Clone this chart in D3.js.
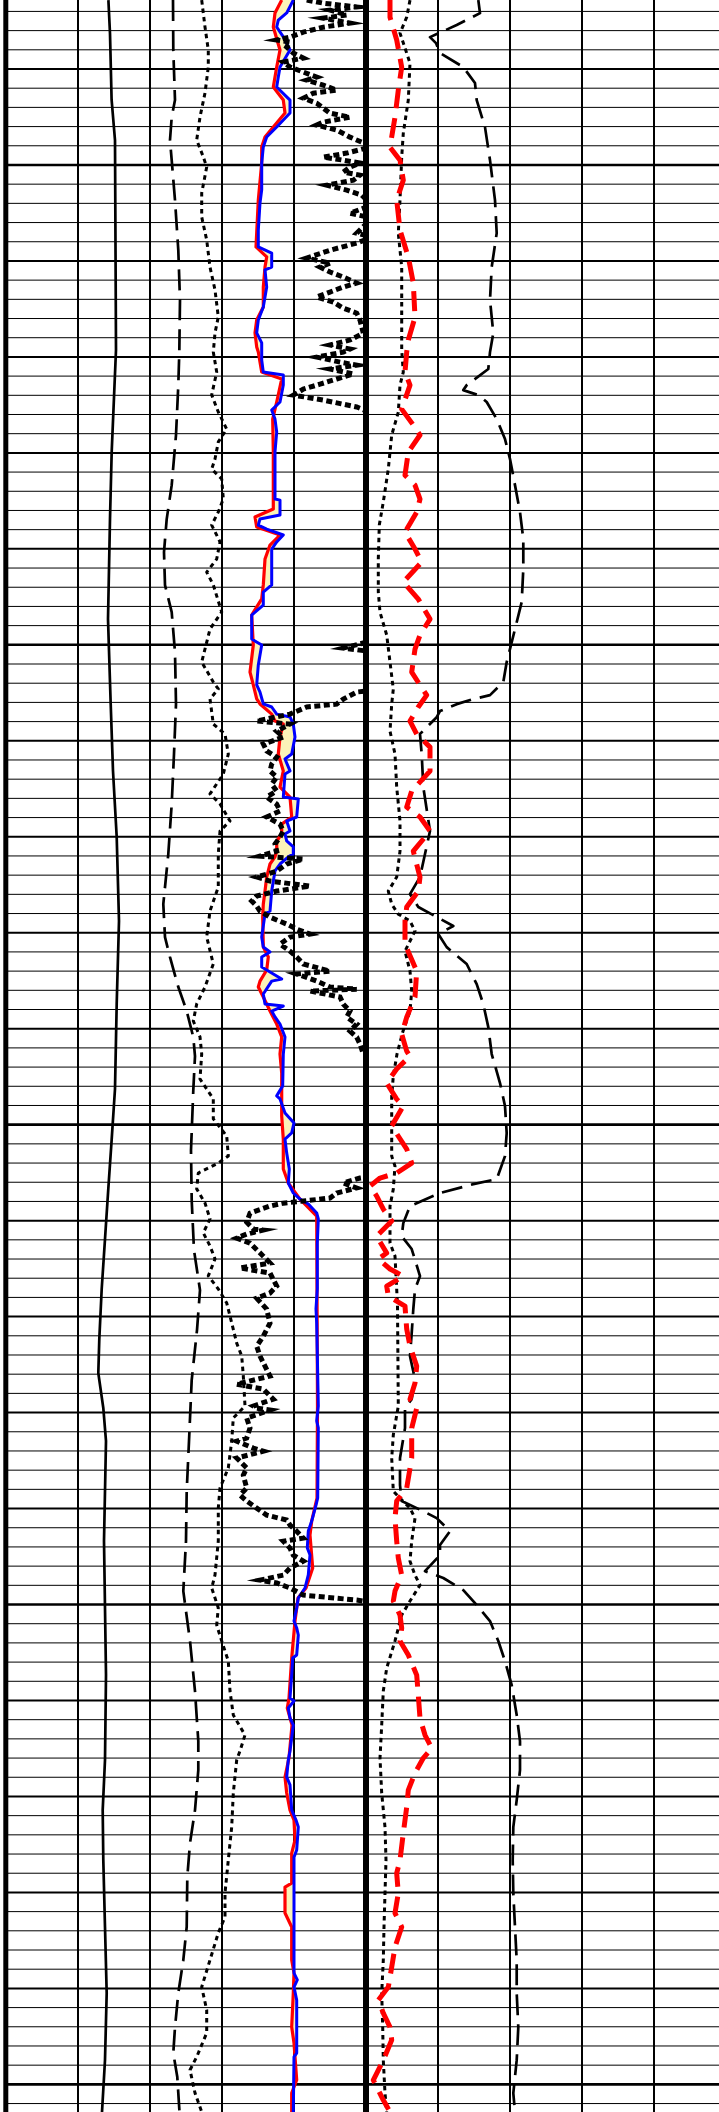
<!DOCTYPE html>
<html>
<head>
<meta charset="utf-8">
<script src="https://cdn.jsdelivr.net/npm/d3@7"></script>
<style>
html, body { margin: 0; padding: 0; background: #fff; }
svg { display: block; }
</style>
</head>
<body>
<div id="log"></div>
<script>
// Each curve: [depth (m), reading in track units 0–180]

// ---- left track ----
const caliper = [[1241.41,51.2],[1243.15,52],[1246.6,52.8],[1248.7,54.5],[1259.64,55],[1264.95,52.85],[1268.44,52],[1273.65,51],[1278.08,52.35],[1281.57,53.5],[1285.01,55.35],[1289.39,56.5],[1293.71,55.35],[1298.14,54.5],[1300.75,52.85],[1303.35,51.15],[1305.96,49.5],[1308.56,47.85],[1311.17,46.65],[1312.94,46.15],[1314.76,48.65],[1316.48,50],[1319.09,49.5],[1321.69,49],[1325.18,49.5],[1328.67,50],[1333.1,49.5],[1335.71,48.35],[1338.31,48.65],[1341.8,49.5],[1345.24,50.35],[1348.73,49.5],[1351.44,48]];

const spontaneous = [[1241.41,83.5],[1244.02,83.65],[1246.62,84.5],[1247.51,82.85],[1248.7,82],[1249.75,82.85],[1251.83,84.5],[1254.44,86.15],[1257.04,87],[1259.75,86.65],[1261.47,86.15],[1264.07,85],[1266.68,82.85],[1268.45,80.35],[1270.17,79],[1271.89,79.5],[1273.3,82.85],[1275.38,84.5],[1278.09,85],[1280.69,84],[1283.3,82.85],[1285.9,81.15],[1288.51,78.65],[1290.23,79.5],[1291.27,82],[1292.83,86.15],[1294.08,90.35],[1295.44,93.65],[1296.43,94.5],[1298.2,93.65],[1301.33,92.5],[1303.93,92.85],[1306.54,94],[1308.62,97],[1310.7,95.5],[1313.31,92.85],[1316.49,91.5],[1319.09,90.35],[1321.7,90],[1324.3,88.65],[1326.9,92],[1329.51,94.5],[1332.12,96.15],[1333.63,96.15],[1335.71,94.5],[1337.43,92],[1339.2,90.65],[1341.8,90.35],[1343.53,88.65],[1345.24,86.15],[1347.02,84.5],[1348.37,83.65],[1349.62,85.65],[1351.44,86.75]];

const spectral = [[1241.41,97.85],[1242.81,99.5],[1244.01,101.15],[1244.9,101.15],[1246.25,99.5],[1247.5,97],[1248.7,95.35],[1249.58,98.65],[1250.11,100.35],[1251.46,97.85],[1252.71,97.85],[1253.91,100.35],[1255.32,102],[1256.51,104.5],[1257.92,106.15],[1258.75,104.5],[1259.74,103.65],[1260.79,105.35],[1261.98,102.85],[1262.87,106.15],[1263.76,110.35],[1264.43,106.15],[1265.32,104.5],[1265.84,102.85],[1266.36,107.85],[1267.4,108.65],[1268.08,106.15],[1268.76,102.85],[1269.64,107],[1270.53,105.35],[1271.21,100.35],[1271.88,103.65],[1273.29,107.85],[1274.18,102],[1275.9,97.85],[1276.94,103.65],[1277.3,106.15],[1277.82,102],[1279.13,103.65],[1279.65,109.5],[1280.69,111.15],[1281.73,108.65],[1282.77,102],[1283.29,107],[1284.18,112],[1284.7,107],[1285.9,106.15],[1287.62,106.15],[1288.87,102],[1290.22,100.35],[1291.63,103.65],[1292.83,99.5],[1293.71,95.35],[1294.6,93.65],[1295.43,97],[1296.32,97.85],[1297.62,97],[1298.66,103.65],[1299.7,103.65],[1300.59,110.35],[1301.63,111.15],[1302.0,106.15],[1302.52,96.15],[1303.35,95.35],[1304.08,99.5],[1304.91,102],[1305.64,98.65],[1306.32,102],[1307.0,104.5],[1307.88,101.15],[1308.56,106.15],[1309.29,110.35],[1310.33,112.85],[1311.38,115.35],[1312.05,117.85],[1313.09,118.65],[1314.66,119.5],[1315.28,113.65],[1316.48,112.85],[1317.89,111.15],[1318.93,107],[1319.97,106.15],[1321.69,106.15],[1323.46,104.5],[1324.14,102.85],[1325.18,106.15],[1326.07,105.35],[1326.9,107.85],[1327.94,111.15],[1329.51,112],[1330.76,113.65],[1331.8,119.5],[1332.63,117],[1333.1,115.35],[1334.82,113.65],[1336.59,112.85],[1338.31,111.15],[1340.03,109.5],[1341.28,109.5],[1342.11,106.15],[1343.52,102],[1344.93,97.85],[1346.12,100.35],[1347.32,100.35],[1348.57,95.35],[1349.25,92],[1350.45,94.5],[1351.44,97.85]];

const density = [[1241.41,137.85],[1242.08,134.5],[1242.81,133.65],[1244.01,137],[1244.9,135.35],[1245.94,133.65],[1246.62,138.65],[1247.29,139.5],[1248.02,133.65],[1248.54,129.5],[1249.06,127.85],[1249.9,127.85],[1251.83,126.15],[1253.54,125.35],[1254.27,125],[1254.79,130.35],[1255.32,129.5],[1256.36,128.65],[1257.4,128.65],[1258.08,125.35],[1258.75,124.5],[1259.48,125.35],[1259.74,126.15],[1260.79,127.85],[1261.15,137.85],[1262.35,135.35],[1263.24,133.35],[1264.95,133.65],[1267.92,133.65],[1268.34,124.5],[1268.86,125.35],[1269.28,137],[1269.8,132],[1270.53,129.5],[1271.88,128.65],[1272.61,127.85],[1273.45,122.85],[1275.01,123.65],[1276.42,122],[1277.09,123.65],[1277.82,125.35],[1278.08,127],[1278.61,132.85],[1278.97,134.5],[1279.13,138.65],[1279.8,137],[1280.69,136.15],[1281.57,138.65],[1282.41,137],[1282.93,142],[1283.97,142.85],[1284.34,137.85],[1284.86,137.85],[1285.22,135.35],[1285.74,135.35],[1286.05,134.5],[1286.42,132],[1287.1,130.35],[1287.83,129.5],[1288.5,128.65],[1289.18,128.35],[1290.74,128.65],[1291.26,131.15],[1291.94,130.35],[1292.52,127],[1292.83,126.15],[1293.35,128.65],[1294.08,132],[1294.76,135.35],[1295.43,137.85],[1296.32,137],[1297.31,137.85],[1299.55,137.85],[1300.75,138.65],[1302.31,138.65],[1303.04,141.15],[1303.88,147],[1304.76,155.35],[1314.66,155.75],[1319.45,155.5],[1320.65,152.85],[1321.38,152],[1323.1,153.35],[1324.14,150],[1324.66,146],[1325.86,144.5],[1327.79,142.85],[1329.87,141.5],[1330.39,140.65],[1331.28,143],[1332.99,141.5],[1333.99,139.5],[1334.82,140.35],[1335.71,142],[1336.23,144],[1337.27,144.5],[1337.95,142.85],[1339.51,142.85],[1339.72,139.5],[1341.07,139.5],[1341.8,142.85],[1343.52,142.85],[1344.2,144],[1345.24,143.65],[1347.01,142.85],[1347.85,144],[1349.77,145.35],[1350.45,142.85],[1351.44,142.85]];

const neutron = [[1241.41,143.65],[1242.08,140.35],[1242.45,136.15],[1242.81,135.35],[1243.33,138.65],[1244.01,142],[1244.9,137],[1245.42,136.15],[1245.94,135.35],[1246.62,142],[1247.29,142],[1248.02,135.35],[1248.54,130.35],[1249.06,128.65],[1249.9,127.85],[1251.3,127.85],[1251.98,127],[1253.39,126.15],[1254.27,126.15],[1254.59,132.85],[1255.32,132.85],[1255.47,129.5],[1256.36,130.35],[1257.4,128.65],[1258.08,126.15],[1258.75,125.35],[1259.27,127.85],[1260.16,127.85],[1260.79,128.65],[1260.94,138.65],[1261.46,138.65],[1262.35,137],[1262.77,132.85],[1263.24,134.5],[1263.91,135.35],[1264.95,134.5],[1267.4,134.5],[1267.46,137],[1268.24,137],[1268.44,127],[1268.76,126.15],[1268.97,130.35],[1269.28,138.65],[1269.64,135.35],[1270.01,132.85],[1271.88,132.85],[1272.25,128.65],[1272.93,128.65],[1273.45,122.85],[1274.7,122.85],[1275.01,127.85],[1276.05,126.15],[1277.09,125.35],[1277.46,127],[1278.08,128.65],[1278.24,132.85],[1278.61,135.35],[1278.76,142],[1279.13,143.65],[1279.8,144.5],[1280.69,142.85],[1280.95,139.5],[1281.57,142],[1281.73,139.5],[1282.93,138.65],[1283.03,146.15],[1283.97,145.35],[1284.18,140.35],[1284.7,142],[1284.86,139.5],[1285.22,140.35],[1285.53,143.65],[1285.9,143.65],[1286.05,141.15],[1286.42,137],[1286.78,134.5],[1287.83,132.85],[1288.87,132],[1289.02,129.5],[1290.22,127.85],[1290.74,128.65],[1291.0,132],[1291.26,127.85],[1291.79,127.85],[1292.15,133.65],[1292.41,137.85],[1292.52,132.85],[1293.19,128.65],[1293.71,129.5],[1293.82,138.65],[1294.08,132.85],[1294.39,134.5],[1294.76,137],[1295.43,139.5],[1296.32,138.65],[1297.98,138.35],[1298.5,135.35],[1298.66,137],[1299.39,139.5],[1299.91,144],[1300.43,142.85],[1300.75,139.5],[1301.48,140.35],[1302.31,141.65],[1303.04,141.15],[1303.56,143.65],[1303.88,147],[1304.13,151.15],[1304.6,155.35],[1304.91,156.15],[1306.16,155.65],[1308.56,155.65],[1309.6,155],[1310.33,155.35],[1314.66,156.15],[1315.44,155.35],[1315.8,156.15],[1319.45,155.85],[1319.82,155],[1320.65,152.85],[1321.17,151.15],[1322.05,150.65],[1322.42,152],[1323.46,151.15],[1324.14,149.5],[1324.66,146.15],[1325.18,145.35],[1325.86,144],[1326.22,145.35],[1326.59,146.15],[1327.63,145.35],[1327.79,143.35],[1328.67,142.85],[1329.87,142],[1330.03,144],[1330.39,141.15],[1330.91,142],[1331.28,143.65],[1332.63,142],[1333.1,141.15],[1333.99,140.35],[1334.4,142],[1335.71,142.85],[1336.23,145],[1336.59,146.15],[1337.79,145.35],[1338.16,144],[1344.2,144],[1344.56,145.65],[1344.93,144],[1345.61,145.35],[1348.37,145.35],[1348.57,144],[1351.44,143.65]];

const gamma = [[1241.41,150.35],[1241.57,158.65],[1241.77,175.35],[1241.93,162],[1242.19,170.35],[1242.35,158.65],[1242.61,172],[1242.82,158.65],[1243.08,148.65],[1243.34,142],[1243.49,135.35],[1243.6,142],[1243.86,140.35],[1244.17,143.65],[1244.43,148.65],[1244.64,138.65],[1244.9,142],[1245.16,148.65],[1245.42,155.35],[1245.58,150.35],[1245.84,158.65],[1246.1,165.35],[1246.26,153.65],[1246.52,148.65],[1246.78,155.35],[1247.04,158.65],[1247.3,162],[1247.51,172],[1247.77,158.65],[1247.92,155.35],[1248.18,165.35],[1248.55,172],[1248.81,177.85],[1249.07,182],[1249.38,170.35],[1249.59,158.65],[1249.75,168.65],[1249.9,177],[1250.11,172],[1250.37,168.65],[1250.53,177],[1250.79,173.65],[1251.05,160.35],[1251.31,170.35],[1251.57,177.85],[1252.09,183],[1252.51,172],[1252.77,183],[1253.55,175.35],[1253.76,183],[1254.07,175.35],[1254.44,162],[1254.85,150.35],[1255.11,162],[1255.32,157],[1255.58,162],[1255.84,168.65],[1256.15,175.35],[1256.36,168.65],[1256.62,162],[1256.88,155.35],[1257.14,163.65],[1257.46,168.65],[1257.72,175.35],[1258.08,177],[1258.76,178.65],[1259.12,172],[1259.38,162],[1259.59,172],[1259.75,168.65],[1260.01,155.35],[1260.27,167],[1260.43,175.35],[1260.63,162],[1260.89,173.65],[1261.15,165.35],[1261.42,157],[1261.68,148.65],[1261.99,143.65],[1262.25,158.65],[1262.61,175.35],[1262.72,178],[1263.03,184.5],[1274.75,184.5],[1275.17,168.65],[1275.38,184.5],[1277.36,184.5],[1277.46,175.35],[1277.83,168.65],[1278.09,165.35],[1278.24,150.35],[1278.61,142],[1278.77,134.5],[1278.97,125.35],[1279.13,142],[1279.5,135.35],[1279.81,138.65],[1280.17,128.65],[1280.53,130.35],[1280.85,135.35],[1281.21,132.85],[1281.58,132],[1281.89,135.35],[1282.26,132.85],[1282.62,135.35],[1282.93,130.35],[1283.3,135.35],[1283.66,137],[1283.97,130.35],[1284.34,137],[1284.7,138.65],[1285.02,137],[1285.38,134.5],[1285.75,135.35],[1286.01,127],[1286.16,148.65],[1286.42,140.35],[1286.79,135.35],[1287.1,125.35],[1287.31,132],[1287.57,152],[1287.83,135.35],[1288.09,125.35],[1288.35,122.85],[1288.61,125.35],[1288.87,127],[1289.19,132],[1289.55,140.35],[1289.81,145.35],[1290.07,152],[1290.23,142],[1290.59,137],[1290.96,142],[1291.27,145.35],[1291.63,148.65],[1292.0,162],[1292.15,145.35],[1292.52,155.35],[1292.83,162],[1292.94,175.35],[1293.04,152],[1293.35,167],[1293.72,168.65],[1294.08,172],[1294.4,170.35],[1294.76,175.35],[1295.13,172],[1295.44,175.35],[1295.8,177],[1296.32,178.65],[1296.64,184.5],[1302.68,184.5],[1302.78,177],[1303.04,168.65],[1303.3,175.35],[1303.56,165.35],[1303.82,162],[1303.98,148.65],[1304.09,138.65],[1304.24,132],[1304.61,122],[1305.08,120.35],[1305.44,123.65],[1305.49,128.65],[1305.7,120.35],[1305.91,115.35],[1306.17,122],[1306.85,128.65],[1307.21,132],[1307.47,117],[1307.73,132],[1308.41,135.35],[1308.77,132],[1309.04,125.35],[1309.61,130.35],[1310.34,132],[1311.02,128.65],[1311.54,125.35],[1312.06,127],[1313.1,132],[1313.52,115.35],[1313.78,128.65],[1314.3,133.65],[1314.66,123.65],[1314.77,125.35],[1314.87,132],[1315.29,120.35],[1315.81,122],[1316.33,120.35],[1316.49,115.35],[1316.85,123.65],[1317.01,128.65],[1317.37,115.35],[1317.89,120.35],[1318.26,118.65],[1318.93,120.35],[1319.3,117],[1319.61,120.35],[1319.98,125.35],[1320.34,130.35],[1320.6,140.35],[1320.86,142],[1321.18,145.35],[1321.54,148.65],[1321.7,138.65],[1322.06,142],[1322.43,143.65],[1322.74,148.65],[1323.1,142],[1323.47,138.65],[1323.73,127],[1323.88,135.35],[1324.14,142],[1324.51,148.65],[1324.77,175.35],[1324.92,184.5]];

// ---- right track ----
const deepRes = [[1241.41,12],[1242.3,12],[1243.49,15.35],[1244.9,17.85],[1246.1,16.15],[1247.51,14.5],[1249.07,12],[1249.75,17],[1250.79,18.65],[1251.83,15.35],[1253.39,17],[1254.8,21.15],[1256.15,23.65],[1257.93,24.5],[1259.12,21.15],[1259.75,20.35],[1260.79,19.5],[1261.47,22],[1262.72,17.85],[1263.55,23.65],[1264.07,27],[1264.96,21.15],[1266.16,19.5],[1266.68,24.5],[1267.41,27],[1268.09,25.35],[1269.13,19.5],[1270.01,24.5],[1270.69,27.85],[1271.73,18.65],[1272.62,26.15],[1273.66,32],[1274.49,27],[1275.22,24.5],[1276.42,22.85],[1277.1,27],[1277.62,30.35],[1278.24,26.15],[1278.97,22],[1279.65,25.35],[1280.33,32],[1281.58,32],[1282.62,22.85],[1283.45,20.35],[1283.97,27],[1284.7,32],[1285.75,23.65],[1287.1,27],[1287.83,26.15],[1288.66,20.35],[1289.39,19.5],[1290.59,19.5],[1292.0,25.35],[1293.35,24.5],[1294.4,20.35],[1295.28,17.85],[1296.17,20.35],[1296.43,22],[1297.1,15.35],[1297.83,10.35],[1298.67,15.35],[1299.03,18.65],[1300.07,12.85],[1301.27,20.35],[1302.0,22.85],[1302.52,15.35],[1302.78,7],[1303.2,2],[1303.72,5.35],[1304.4,8.65],[1305.02,12.85],[1305.81,5.35],[1306.69,10.35],[1307.0,6.15],[1307.52,12],[1307.89,18.65],[1308.41,10.35],[1308.93,11.15],[1309.45,19.5],[1310.65,20.35],[1311.54,22],[1312.58,25.35],[1313.46,24.5],[1314.3,22],[1314.77,25.35],[1315.81,22.85],[1317.37,22.85],[1318.93,20.35],[1319.61,15.35],[1320.5,14.5],[1321.7,15.35],[1322.58,16.15],[1323.47,17.85],[1324.3,14.5],[1324.82,13.65],[1325.55,17],[1326.23,17.85],[1326.9,17],[1327.63,21.15],[1328.68,25.35],[1329.72,26.15],[1330.92,27],[1331.8,29.5],[1332.48,32.85],[1333.0,28.65],[1333.78,24.5],[1334.67,21.15],[1335.56,20.35],[1336.91,18.65],[1338.32,17],[1339.0,15.35],[1340.04,16.15],[1341.08,14.5],[1341.8,17.85],[1342.85,14.5],[1343.89,12.85],[1344.93,11.15],[1345.61,6.15],[1346.29,8.65],[1347.02,12],[1347.69,12.85],[1348.74,8.65],[1349.78,3.65],[1350.82,8.65],[1351.44,12]];

const shallowRes = [[1241.41,22],[1242.3,20.35],[1243.13,17],[1244.69,22],[1246.62,21.15],[1248.34,18.65],[1249.59,17.85],[1251.83,17],[1253.55,16.15],[1255.32,17.85],[1259.65,17.85],[1260.79,18.65],[1261.47,17],[1262.88,16.15],[1264.07,12.85],[1265.84,11.15],[1267.56,8.65],[1268.76,6.65],[1270.53,6.15],[1272.25,6.15],[1273.3,7],[1274.49,10.35],[1275.9,12],[1277.31,13.65],[1278.09,12.85],[1279.5,12],[1280.69,14.5],[1282.41,15.35],[1284.18,17],[1285.75,17],[1287.1,15.35],[1287.83,11.15],[1288.51,12.85],[1289.03,16.15],[1289.39,22],[1289.91,24.5],[1290.96,19.5],[1292.0,22],[1293.04,22.85],[1294.08,22],[1295.13,18.5],[1296.32,15.5],[1297.47,13.65],[1298.51,12.85],[1301.64,12.85],[1302.16,14.5],[1303.36,13.65],[1304.24,12],[1306.17,12],[1306.85,14.5],[1308.57,15.35],[1309.45,15.75],[1314.66,16.15],[1316.17,13.65],[1317.37,12.85],[1319.09,13.65],[1319.46,17],[1319.98,22],[1320.5,24.5],[1321.7,22.85],[1322.74,22],[1323.47,24.5],[1323.99,27],[1324.82,22],[1325.55,17.85],[1326.9,14.5],[1328.31,10.35],[1329.51,8.65],[1331.28,7.85],[1333.0,7],[1334.83,7.85],[1336.6,9.5],[1338.32,10],[1340.04,9.5],[1341.8,9],[1343.53,8.65],[1345.24,7.85],[1347.02,8.35],[1348.74,8.65],[1350.46,9.5],[1351.44,10.35]];

const mediumRes = [[1241.41,56.15],[1242.09,57],[1242.71,45.35],[1243.34,32],[1243.65,35],[1244.17,37],[1244.9,48.65],[1245.73,54.5],[1246.62,55.35],[1248.03,59.5],[1249.75,62],[1251.83,64.5],[1253.55,65.35],[1255.32,62.85],[1257.04,62],[1258.76,63.65],[1259.75,62],[1260.63,61.15],[1261.47,50.35],[1261.73,48.65],[1261.99,56.15],[1262.35,60.35],[1263.24,65.35],[1264.28,69.5],[1265.32,72],[1266.68,74.5],[1268.09,77],[1269.49,78.65],[1271.05,78.65],[1272.77,77.85],[1274.18,74.5],[1275.9,70.35],[1276.94,68.65],[1277.62,62],[1277.83,53.65],[1278.09,45.35],[1278.45,37],[1278.77,35.35],[1279.65,27],[1280.69,27.85],[1282.41,28.65],[1284.7,32],[1285.9,29.5],[1287.1,27],[1287.99,22],[1288.66,26.15],[1289.18,35.35],[1289.65,43.65],[1290.07,36.15],[1290.75,40.35],[1291.63,50.35],[1292.68,55.35],[1293.72,58.65],[1294.92,61.15],[1296.32,62.85],[1297.83,67],[1299.03,69.5],[1300.44,70.35],[1301.64,69.5],[1302.84,65.35],[1303.1,53.65],[1303.56,37],[1304.24,22],[1305.13,18.65],[1305.81,17.85],[1306.48,22.85],[1307.89,27],[1308.57,24.5],[1309.61,23.65],[1310.86,22.85],[1312.06,22],[1313.27,24.5],[1314.3,22.85],[1314.77,19.5],[1315.81,19.5],[1317.37,17],[1318.78,17],[1319.61,17.85],[1320.14,28.65],[1320.5,35.35],[1321.18,42],[1321.9,37],[1322.43,37],[1323.26,29.5],[1323.62,38.65],[1324.25,48.65],[1325.03,55.35],[1325.86,62],[1326.9,66.15],[1327.95,69.5],[1329.2,72.85],[1330.76,75.35],[1332.12,77],[1333.63,77],[1335.19,75.35],[1336.6,73.65],[1338.32,73.35],[1340.04,73.65],[1341.8,74.5],[1343.53,75.35],[1345.24,75.35],[1347.02,76.15],[1348.74,75.35],[1350.46,73.65],[1351.44,74.5]];

// ---- layout ----
const W = 719, H = 2112;
const depthTop = 1241.405, depthBase = 1351.44;
const trackMin = 0, trackMax = 180;

const y = d3.scaleLinear().domain([depthTop, depthBase]).range([0, H]);
const xLeft = d3.scaleLinear().domain([trackMin, trackMax]).range([6, 366]);
const xRight = d3.scaleLinear().domain([trackMin, trackMax]).range([366, 726]);

const svg = d3.select('#log').append('svg')
  .attr('width', W).attr('height', H)
  .style('background', '#fff');

const defs = svg.append('defs');
defs.append('clipPath').attr('id', 'clip-left')
  .append('rect').attr('x', 6).attr('y', 0).attr('width', 360).attr('height', H);
defs.append('clipPath').attr('id', 'clip-right')
  .append('rect').attr('x', 366).attr('y', 0).attr('width', 360).attr('height', H);

// depth grid: 1 m thin, 5 m medium, 25 m heavy
const depthLines = d3.range(Math.ceil(depthTop), Math.floor(depthBase) + 1);
svg.append('g').attr('class', 'grid-depth')
  .selectAll('line').data(depthLines).join('line')
  .attr('x1', 6).attr('x2', W)
  .attr('y1', d => y(d)).attr('y2', d => y(d))
  .attr('stroke', '#000')
  .attr('stroke-width', d => d % 25 === 0 ? 2.6 : (d % 5 === 0 ? 2 : 1));

// track divisions
const divisions = d3.range(36, trackMax, 36);
svg.append('g').attr('class', 'grid-left')
  .selectAll('line').data(divisions).join('line')
  .attr('x1', d => xLeft(d)).attr('x2', d => xLeft(d))
  .attr('y1', 0).attr('y2', H)
  .attr('stroke', '#000').attr('stroke-width', 2);
svg.append('g').attr('class', 'grid-right')
  .selectAll('line').data(divisions).join('line')
  .attr('x1', d => xRight(d)).attr('x2', d => xRight(d))
  .attr('y1', 0).attr('y2', H)
  .attr('stroke', '#000').attr('stroke-width', 2);

const lineL = d3.line().x(d => xLeft(d[1])).y(d => y(d[0]));
const lineR = d3.line().x(d => xRight(d[1])).y(d => y(d[0]));

const left = svg.append('g').attr('clip-path', 'url(#clip-left)');
const right = svg.append('g').attr('clip-path', 'url(#clip-right)');

// crossover shading: between density (left) and neutron (right)
defs.append('clipPath').attr('id', 'clip-neutron')
  .append('path')
  .attr('d', d3.area().y(d => y(d[0])).x0(xLeft(trackMin)).x1(d => xLeft(d[1]))(neutron));
left.append('path')
  .attr('d', d3.area().y(d => y(d[0])).x0(d => xLeft(d[1])).x1(xLeft(trackMax))(density))
  .attr('clip-path', 'url(#clip-neutron)')
  .attr('fill', '#fbf3b8');

function curve(g, gen, data, color, width, dash, join) {
  g.append('path')
    .attr('d', gen(data))
    .attr('fill', 'none')
    .attr('stroke', color)
    .attr('stroke-width', width)
    .attr('stroke-dasharray', dash || null)
    .attr('stroke-linejoin', join || 'round')
    .attr('stroke-miterlimit', 12);
}

curve(left, lineL, caliper, '#000', 2.7);
curve(left, lineL, spontaneous, '#000', 2.7, '21,9');
curve(left, lineL, spectral, '#000', 3, '4.5,4');
curve(left, lineL, density, '#ff0000', 3.2);
curve(left, lineL, neutron, '#0000ff', 3);
curve(left, lineL, gamma, '#000', 5, '6,3.5', 'miter');

curve(right, lineR, shallowRes, '#000', 3, '4.5,4');
curve(right, lineR, mediumRes, '#000', 2.7, '21,9');
curve(right, lineR, deepRes, '#ff0000', 5, '20,10');

// track borders
svg.append('line').attr('x1', 5.8).attr('x2', 5.8).attr('y1', 0).attr('y2', H)
  .attr('stroke', '#000').attr('stroke-width', 5);
svg.append('line').attr('x1', xLeft(trackMax)).attr('x2', xLeft(trackMax)).attr('y1', 0).attr('y2', H)
  .attr('stroke', '#000').attr('stroke-width', 6);
</script>
</body>
</html>
